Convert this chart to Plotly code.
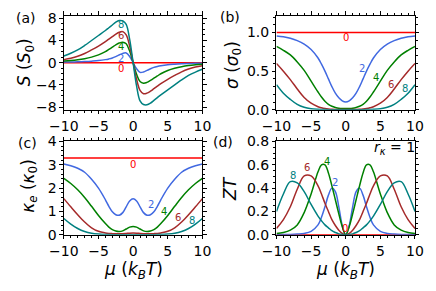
import plotly.graph_objects as go

W, H = 436, 291

MU = [-10, -9, -8, -7, -6, -5, -4, -3.5, -3, -2.5, -2, -1.5, -1, -0.5, 0,
      0.5, 1, 1.5, 2, 2.5, 3, 3.5, 4, 5, 6, 7, 8, 9, 10]
GAP_LABELS = ["0", "2", "4", "6", "8"]
COLORS = ["#ff0000", "#4169e1", "#008000", "#a52a2a", "#008080"]

# (a) Seebeck coefficient S (S0)
S_0 = [0, 0, 0, 0, 0, 0, 0, 0, 0, 0, 0, 0, 0, 0, 0, 0, 0, 0, 0, 0, 0, 0, 0, 0, 0, 0, 0, 0, 0]
S_2 = [0.1, 0.12, 0.15, 0.2, 0.27, 0.37, 0.55, 0.68, 0.85, 1.1, 1.4, 1.68, 1.75, 1.1, 0,
       -1.1, -1.75, -1.68, -1.4, -1.1, -0.85, -0.68, -0.55, -0.37, -0.27, -0.2, -0.15, -0.12, -0.1]
S_4 = [0.28, 0.38, 0.52, 0.72, 1.0, 1.4, 2.0, 2.4, 2.8, 3.2, 3.55, 3.7, 3.4, 2.1, 0,
       -2.1, -3.4, -3.7, -3.55, -3.2, -2.8, -2.4, -2.0, -1.4, -1.0, -0.72, -0.52, -0.38, -0.28]
S_6 = [0.55, 0.8, 1.15, 1.65, 2.3, 3.0, 3.8, 4.25, 4.7, 5.15, 5.5, 5.6, 5.0, 3.0, 0,
       -3.0, -5.0, -5.6, -5.5, -5.15, -4.7, -4.25, -3.8, -3.0, -2.3, -1.65, -1.15, -0.8, -0.55]
S_8 = [1.2, 1.7, 2.3, 3.1, 4.0, 4.9, 5.8, 6.3, 6.8, 7.3, 7.6, 7.55, 6.9, 4.2, 0,
       -4.2, -6.9, -7.55, -7.6, -7.3, -6.8, -6.3, -5.8, -4.9, -4.0, -3.1, -2.3, -1.7, -1.2]

# (b) conductivity sigma (sigma0)
SIG_0 = [1, 1, 1, 1, 1, 1, 1, 1, 1, 1, 1, 1, 1, 1, 1, 1, 1, 1, 1, 1, 1, 1, 1, 1, 1, 1, 1, 1, 1]
SIG_2 = [0.955, 0.945, 0.925, 0.895, 0.85, 0.78, 0.67, 0.59, 0.50, 0.40, 0.30, 0.215, 0.155, 0.115, 0.10,
         0.115, 0.155, 0.215, 0.30, 0.40, 0.50, 0.59, 0.67, 0.78, 0.85, 0.895, 0.925, 0.945, 0.955]
SIG_4 = [0.82, 0.77, 0.71, 0.62, 0.51, 0.37, 0.23, 0.165, 0.11, 0.07, 0.045, 0.03, 0.02, 0.016, 0.015,
         0.016, 0.02, 0.03, 0.045, 0.07, 0.11, 0.165, 0.23, 0.37, 0.51, 0.62, 0.71, 0.77, 0.82]
SIG_6 = [0.60, 0.50, 0.39, 0.27, 0.16, 0.085, 0.04, 0.026, 0.016, 0.01, 0.006, 0.004, 0.003, 0.002, 0.002,
         0.002, 0.003, 0.004, 0.006, 0.01, 0.016, 0.026, 0.04, 0.085, 0.16, 0.27, 0.39, 0.50, 0.60]
SIG_8 = [0.325, 0.215, 0.135, 0.07, 0.032, 0.014, 0.006, 0.004, 0.002, 0.001, 0.001, 0, 0, 0, 0,
         0, 0, 0, 0.001, 0.001, 0.002, 0.004, 0.006, 0.014, 0.032, 0.07, 0.135, 0.215, 0.325]

# (c) electronic thermal conductivity kappa_e (kappa0)
KAP_0 = [3.29, 3.29, 3.29, 3.29, 3.29, 3.29, 3.29, 3.29, 3.29, 3.29, 3.29, 3.29, 3.29, 3.29, 3.29,
         3.29, 3.29, 3.29, 3.29, 3.29, 3.29, 3.29, 3.29, 3.29, 3.29, 3.29, 3.29, 3.29, 3.29]
KAP_2 = [3.03, 2.96, 2.85, 2.68, 2.38, 2.0, 1.5, 1.22, 0.99, 0.86, 0.84, 0.95, 1.2, 1.45, 1.54,
         1.45, 1.2, 0.95, 0.84, 0.86, 0.99, 1.22, 1.5, 2.0, 2.38, 2.68, 2.85, 2.96, 3.03]
KAP_4 = [2.42, 2.2, 1.93, 1.6, 1.22, 0.83, 0.48, 0.33, 0.22, 0.16, 0.14, 0.17, 0.25, 0.33, 0.36,
         0.33, 0.25, 0.17, 0.14, 0.16, 0.22, 0.33, 0.48, 0.83, 1.22, 1.6, 1.93, 2.2, 2.42]
KAP_6 = [1.55, 1.2, 0.86, 0.55, 0.3, 0.15, 0.08, 0.06, 0.05, 0.045, 0.045, 0.05, 0.06, 0.07, 0.075,
         0.07, 0.06, 0.05, 0.045, 0.045, 0.05, 0.06, 0.08, 0.15, 0.3, 0.55, 0.86, 1.2, 1.55]
KAP_8 = [0.70, 0.46, 0.27, 0.14, 0.065, 0.03, 0.013, 0.009, 0.006, 0.005, 0.004, 0.004, 0.004, 0.004, 0.004,
         0.004, 0.004, 0.004, 0.004, 0.005, 0.006, 0.009, 0.013, 0.03, 0.065, 0.14, 0.27, 0.46, 0.70]

# (d) figure of merit ZT (r_kappa = 1)
ZT_0 = [0, 0, 0, 0, 0, 0, 0, 0, 0, 0, 0, 0, 0, 0, 0, 0, 0, 0, 0, 0, 0, 0, 0, 0, 0, 0, 0, 0, 0]
ZT_2 = [0.001, 0.002, 0.003, 0.006, 0.012, 0.03, 0.085, 0.15, 0.24, 0.34, 0.40, 0.37, 0.24, 0.08, 0,
        0.08, 0.24, 0.37, 0.40, 0.34, 0.24, 0.15, 0.085, 0.03, 0.012, 0.006, 0.003, 0.002, 0.001]
ZT_4 = [0.012, 0.02, 0.04, 0.085, 0.19, 0.35, 0.54, 0.60, 0.60, 0.53, 0.42, 0.30, 0.18, 0.07, 0,
        0.07, 0.18, 0.30, 0.42, 0.53, 0.60, 0.60, 0.54, 0.35, 0.19, 0.085, 0.04, 0.02, 0.012]
ZT_6 = [0.055, 0.13, 0.24, 0.39, 0.505, 0.505, 0.42, 0.35, 0.27, 0.2, 0.13, 0.08, 0.04, 0.012, 0,
        0.012, 0.04, 0.08, 0.13, 0.2, 0.27, 0.35, 0.42, 0.505, 0.505, 0.39, 0.24, 0.13, 0.055]
ZT_8 = [0.2, 0.35, 0.455, 0.445, 0.37, 0.26, 0.16, 0.12, 0.085, 0.06, 0.035, 0.02, 0.008, 0.002, 0,
        0.002, 0.008, 0.02, 0.035, 0.06, 0.085, 0.12, 0.16, 0.26, 0.37, 0.445, 0.455, 0.35, 0.2]

# curve-label positions (data coords) per panel, order 0,2,4,6,8
LAB_A = [(-1.8, -1.1), (-1.8, 0.7), (-1.8, 2.9), (-1.8, 4.9), (-1.8, 6.9)]
LAB_B = [(0.0, 0.93), (2.4, 0.53), (4.4, 0.42), (6.5, 0.33), (8.5, 0.28)]
LAB_C = [(0.0, 3.02), (2.53, 1.30), (4.45, 1.0), (6.55, 0.76), (8.55, 0.62)]
LAB_D = [(-0.1, 0.05), (-1.5, 0.45), (-2.7, 0.63), (-5.6, 0.58), (-7.6, 0.51)]

FONT = "DejaVu Sans"

panels = [
    ("x", "y", [S_0, S_2, S_4, S_6, S_8], LAB_A),
    ("x2", "y2", [SIG_0, SIG_2, SIG_4, SIG_6, SIG_8], LAB_B),
    ("x3", "y3", [KAP_0, KAP_2, KAP_4, KAP_6, KAP_8], LAB_C),
    ("x4", "y4", [ZT_0, ZT_2, ZT_4, ZT_6, ZT_8], LAB_D),
]

fig = go.Figure()
annotations = []
for xa, ya, series, labs in panels:
    for i, ys in enumerate(series):
        fig.add_trace(go.Scatter(x=MU, y=ys, mode="lines",
                                 line=dict(color=COLORS[i], width=1.5, shape="spline"),
                                 xaxis=xa, yaxis=ya, showlegend=False, hoverinfo="skip"))
    for i, (lx, ly) in enumerate(labs):
        annotations.append(dict(x=lx, y=ly, xref=xa, yref=ya, text=GAP_LABELS[i],
                                showarrow=False, xanchor="center", yanchor="middle",
                                font=dict(family=FONT, size=10, color=COLORS[i])))


def px(xp):
    return xp / W


def py(yp):
    return 1 - yp / H


def axis(domain, rng, dtick, minor_dtick, anchor, fmt=None):
    d = dict(domain=domain, range=rng, anchor=anchor, tickmode="linear", tick0=0, dtick=dtick,
             showline=True, linecolor="black", linewidth=1, mirror="allticks",
             ticks="outside", ticklen=3.5, tickwidth=1, tickcolor="black",
             showgrid=False, zeroline=False,
             tickfont=dict(family=FONT, size=14, color="black"),
             minor=dict(ticks="outside", ticklen=2, tickwidth=0.8, tickcolor="black",
                        tick0=0, dtick=minor_dtick, showgrid=False))
    if fmt:
        d["tickformat"] = fmt
    return d


XL = [px(51.7), px(198.3)]
XR = [px(276.7), px(423.3)]
YT = [py(107.7), py(8.0)]
YB = [py(240.0), py(141.2)]

layout = dict(
    width=W, height=H, margin=dict(l=0, r=0, t=0, b=0),
    paper_bgcolor="white", plot_bgcolor="white",
    xaxis=axis(XL, [-10, 10], 5, 1, "y"),
    yaxis=axis(YT, [-8.5, 8.5], 4, 1, "x"),
    xaxis2=axis(XR, [-10, 10], 5, 1, "y2"),
    yaxis2=axis(YT, [0, 1.22], 0.5, 0.1, "x2", ".1f"),
    xaxis3=axis(XL, [-10, 10], 5, 1, "y3"),
    yaxis3=axis(YB, [0, 4], 1, 0.2, "x3"),
    xaxis4=axis(XR, [-10, 10], 5, 1, "y4"),
    yaxis4=axis(YB, [0, 0.8], 0.2, 0.05, "x4", ".1f"),
)


def paper_text(text, x, y, size, angle=0, yanchor="middle"):
    return dict(x=px(x), y=py(y), xref="paper", yref="paper", text=text, showarrow=False,
                xanchor="center", yanchor=yanchor, textangle=angle,
                font=dict(family=FONT, size=size, color="black"))


annotations += [
    paper_text("(a)", 12, 11, 14),
    paper_text("(b)", 227, 10, 14),
    paper_text("(c)", 13, 143, 14),
    paper_text("(d)", 220, 142, 14),
    paper_text("<i>S</i> (<i>S</i><sub>0</sub>)", 12, 57, 17, -90),
    paper_text("<i>σ</i> (<i>σ</i><sub>0</sub>)", 231, 60, 17, -90),
    paper_text("<i>κ</i><sub><i>e</i></sub> (<i>κ</i><sub>0</sub>)", 15, 188, 17, -90),
    paper_text("<i>ZT</i>", 228, 191, 17, -90),
    paper_text("<i>μ</i> (<i>k</i><sub><i>B</i></sub><i>T</i>)", 125, 264, 17, 0, "top"),
    paper_text("<i>μ</i> (<i>k</i><sub><i>B</i></sub><i>T</i>)", 350, 264, 17, 0, "top"),
    paper_text("<i>r</i><sub><i>κ</i></sub> = 1", 402, 148, 14),
]
layout["annotations"] = annotations
fig.update_layout(**layout)

fig.write_html("out.html", config={"displayModeBar": False},
               post_script="document.body.style.margin='0px';document.body.style.padding='0px';")
